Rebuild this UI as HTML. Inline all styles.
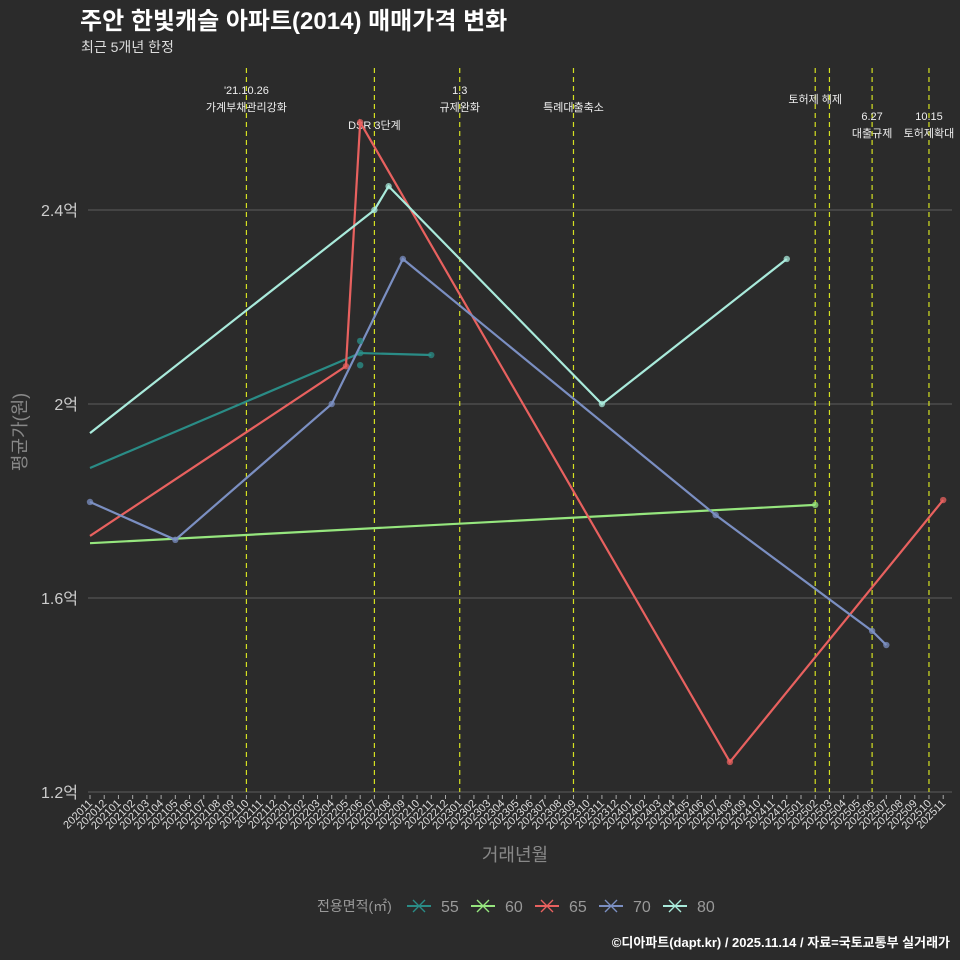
<!DOCTYPE html>
<html><head><meta charset="utf-8"><style>
body{margin:0;background:#2b2b2b;}
svg{display:block;font-family:"Liberation Sans","Noto Sans CJK KR",sans-serif;}
</style></head><body>
<svg id="c" width="960" height="960" xmlns="http://www.w3.org/2000/svg">
<rect width="960" height="960" fill="#2b2b2b"/>
<text x="80" y="29" fill="#ffffff" font-size="24" font-weight="bold">주안 한빛캐슬 아파트(2014) 매매가격 변화</text>
<text x="81" y="52" fill="#dddddd" font-size="14">최근 5개년 한정</text>
<text transform="translate(26,432) rotate(-90)" text-anchor="middle" fill="#888" font-size="18">평균가(원)</text>
<text x="515" y="861" text-anchor="middle" fill="#888" font-size="18">거래년월</text>
<text x="950" y="947" text-anchor="end" fill="#ffffff" font-size="13" font-weight="bold">©디아파트(dapt.kr) / 2025.11.14 / 자료=국토교통부 실거래가</text>
<g id="grid"></g><g id="ev"></g><g id="series"></g><g id="xt"></g><g id="legend"></g>
</svg>
<script>
const yTicks=[1.2,1.6,2.0,2.4];
const yTickLabels=["1.2억","1.6억","2억","2.4억"];
const eventMonths=["202110","202207","202301","202309","202502","202503","202506","202510"];
const eventLine1=["'21.10.26","","1.3","","토허제 해제","","6.27","10.15"];
const eventLine2=["가계부채관리강화","DSR 3단계","규제완화","특례대출축소","","","대출규제","토허제확대"];
const seriesNames=["55","60","65","70","80"];
const seriesColors=["#2a8c86","#96e67e","#e8615f","#7b8fc2","#a9eadb"];
const s55Months=["202011","202206","202211"], s55Values=[1.868,2.105,2.101];
const s60Months=["202011","202502"], s60Values=[1.713,1.792];
const s65Months=["202011","202205","202206","202408","202511"], s65Values=[1.728,2.078,2.581,1.262,1.802];
const s70Months=["202011","202105","202204","202209","202407","202506","202507"], s70Values=[1.798,1.72,2.0,2.299,1.771,1.532,1.503];
const s80Months=["202011","202207","202208","202311","202412"], s80Values=[1.94,2.4,2.449,2.0,2.299];
const extraMonths=["202206","202206"], extraValues=[2.13,2.08];

const NS="http://www.w3.org/2000/svg";
function mi(m){return (parseInt(m.slice(0,4))-2020)*12+parseInt(m.slice(4))-11;}
function X(m){return 90+mi(m)*14.22;}
function Y(v){return 792-(v-1.2)*485;}
function mk(tag,at,par){const e=document.createElementNS(NS,tag);for(const k in at)e.setAttribute(k,at[k]);par.appendChild(e);return e;}
const grid=document.getElementById('grid');
yTicks.forEach((t,i)=>{
 const l=mk('line',{x1:88,x2:952,y1:Y(t),y2:Y(t),stroke:'#5e5e5e','stroke-width':1},grid);
 
 
 const tx=mk('text',{x:78,y:Y(t)+6,'text-anchor':'end',fill:'#cccccc','font-size':16},grid);
 tx.textContent=yTickLabels[i];
 
 
});
const ev=document.getElementById('ev');
eventMonths.forEach((m,i)=>{
 const x=X(m);
 const l=mk('line',{x1:x,x2:x,y1:68,y2:792,stroke:'#d4e021','stroke-width':1.2,'stroke-dasharray':'5,4'},ev);
 
 
 const off=(i==1)?125:(eventLine1[i]&&!eventLine2[i]?99:(i>=6?116:90));
 if(eventLine1[i]){const t=mk('text',{x:x,y:off+4,'text-anchor':'middle',fill:'#eeeeee','font-size':11},ev);t.textContent=eventLine1[i];
 
 }
 if(eventLine2[i]){const t=mk('text',{x:x,y:(i==1?off+4:off+21),'text-anchor':'middle',fill:'#eeeeee','font-size':11},ev);t.textContent=eventLine2[i];
 
 }
});
const xt=document.getElementById('xt');
for(let k=0;k<=60;k++){
 const y=2020+Math.floor((10+k)/12), mo=(10+k)%12+1;
 const lab=String(y)+String(mo).padStart(2,'0');
 const x=X(lab);
 const tk=mk('line',{x1:x,x2:x,y1:795,y2:799,stroke:'#aaa'},xt);
 
 
 const t=mk('text',{transform:`translate(${x+3},${804}) rotate(-45)`,'text-anchor':'end',fill:'#dddddd','font-size':11},xt);
 t.textContent=lab;
 
 
}
const ser=document.getElementById('series');
const allM=[s55Months,s60Months,s65Months,s70Months,s80Months], allV=[s55Values,s60Values,s65Values,s70Values,s80Values];
allM.forEach((ms,i)=>{
 const pts=ms.map((m,j)=>X(m)+','+Y(allV[i][j])).join(' ');
 const p=mk('polyline',{points:pts,fill:'none',stroke:seriesColors[i],'stroke-width':2.2},ser);
 
 
 ms.forEach((m,j)=>{
  if(j==0&&i!=3)return;
  const c=mk('circle',{cx:X(m),cy:Y(allV[i][j]),r:3.2,fill:seriesColors[i],opacity:0.75},ser);
  
  
 });
});
extraMonths.forEach((m,j)=>{
 const c=mk('circle',{cx:X(m),cy:Y(extraValues[j]),r:3.2,fill:seriesColors[0],opacity:0.8},ser);
 
 
});
const lg=document.getElementById('legend');
const lt=mk('text',{x:317,y:911,fill:'#999','font-size':14},lg);
lt.textContent='전용면적(㎡)';


seriesNames.forEach((n,i)=>{
 const x0=407+i*64;
 const g=mk('g',{},lg);
 
 
 mk('line',{x1:x0,x2:x0+24,y1:906,y2:906,stroke:seriesColors[i],'stroke-width':2},g);
 mk('line',{x1:x0+6,x2:x0+18,y1:900,y2:912,stroke:seriesColors[i],'stroke-width':1.3},g);
 mk('line',{x1:x0+6,x2:x0+18,y1:912,y2:900,stroke:seriesColors[i],'stroke-width':1.3},g);
 const t=mk('text',{x:x0+34,y:912,fill:'#999','font-size':16},g);t.textContent=n;
});
</script>
</body></html>
